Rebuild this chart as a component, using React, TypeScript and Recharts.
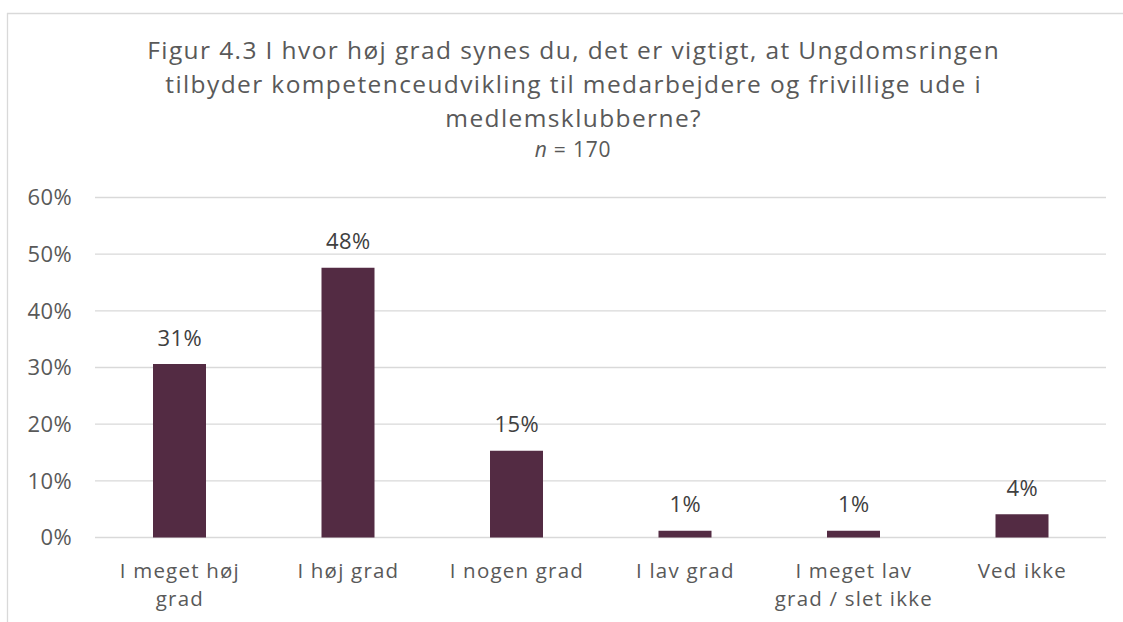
import React from 'react';
import { BarChart, Bar, XAxis, YAxis, CartesianGrid, LabelList } from 'recharts';

const categories: string[] = [
  'I meget høj\ngrad',
  'I høj grad',
  'I nogen grad',
  'I lav grad',
  'I meget lav\ngrad / slet ikke',
  'Ved ikke',
];
const shares: number[] = [30.6, 47.6, 15.3, 1.2, 1.2, 4.1];
const yTicks: number[] = [0, 10, 20, 30, 40, 50, 60];
const titleLines: string[] = [
  'Figur 4.3 I hvor høj grad synes du, det er vigtigt, at Ungdomsringen',
  'tilbyder kompetenceudvikling til medarbejdere og frivillige ude i',
  'medlemsklubberne?',
];
const subtitleItalic = 'n';
const subtitleRest = ' = 170';

const data = categories.map((c, i) => ({ name: c, value: shares[i] }));

const FONT = '"Open Sans", Lato, sans-serif';
const BAR = '#532B43';
const TEXT = '#595959';
const GRID = '#D9D9D9';

const YTick = (props: any) => {
  const { x, y, payload } = props;
  return (
    <text x={x} y={y} dy="0.36em" textAnchor="end" fill={TEXT} fontSize={22} letterSpacing={0.4} fontFamily={FONT}>
      {`${payload.value}%`}
    </text>
  );
};

const XTick = (props: any) => {
  const { x, y, payload } = props;
  const lines = String(payload.value).split('\n');
  return (
    <text x={x} y={y} textAnchor="middle" fill={TEXT} fontSize={20.5} letterSpacing={1.2} fontFamily={FONT}>
      {lines.map((l, i) => (
        <tspan key={i} x={x + 0.6} y={y + 40 + i * 28}>
          {l}
        </tspan>
      ))}
    </text>
  );
};

const ValueLabel = (props: any) => {
  const { x, y, width, value } = props;
  return (
    <text x={x + width / 2 + 0.2} y={y - 18.5} textAnchor="middle" fill="#404040" fontSize={22} letterSpacing={0.4} fontFamily={FONT}>
      {`${Math.round(value)}%`}
    </text>
  );
};

export default function App() {
  return (
    <div style={{ position: 'absolute', left: 0, top: 0, width: 1123, height: 622, background: '#fff', overflow: 'hidden' }}>
      <BarChart
        width={1123}
        height={622}
        data={data}
        margin={{ top: 197.5, right: 17, bottom: 24.5, left: 35 }}
      >
        <CartesianGrid vertical={false} stroke={GRID} strokeWidth={1.3} />
        <XAxis
          dataKey="name"
          axisLine={false}
          tickLine={false}
          tickSize={0}
          tickMargin={0}
          height={60}
          interval={0}
          tick={<XTick />}
        />
        <YAxis
          domain={[0, 60]}
          ticks={yTicks}
          axisLine={false}
          tickLine={false}
          tickSize={0}
          tickMargin={23}
          width={60}
          tick={<YTick />}
        />
        <Bar dataKey="value" fill={BAR} barSize={53} isAnimationActive={false}>
          <LabelList dataKey="value" content={<ValueLabel />} />
        </Bar>
      </BarChart>
      <svg
        width={1123}
        height={622}
        style={{ position: 'absolute', left: 0, top: 0, pointerEvents: 'none' }}
      >
        <line x1={7} y1={13.5} x2={1123} y2={13.5} stroke={GRID} strokeWidth={1.3} />
        <line x1={7.5} y1={13} x2={7.5} y2={622} stroke={GRID} strokeWidth={1.3} />
        {titleLines.map((t, i) => (
          <text key={i} x={573.7} y={58.5 + i * 34} textAnchor="middle" fill={TEXT} fontSize={24.5} letterSpacing={1.4} fontFamily={FONT}>
            {t}
          </text>
        ))}
        <text x={573} y={157} textAnchor="middle" fill={TEXT} fontSize={21} letterSpacing={0.8} fontFamily={FONT}>
          <tspan fontStyle="italic">{subtitleItalic}</tspan>
          {subtitleRest}
        </text>
      </svg>
    </div>
  );
}
